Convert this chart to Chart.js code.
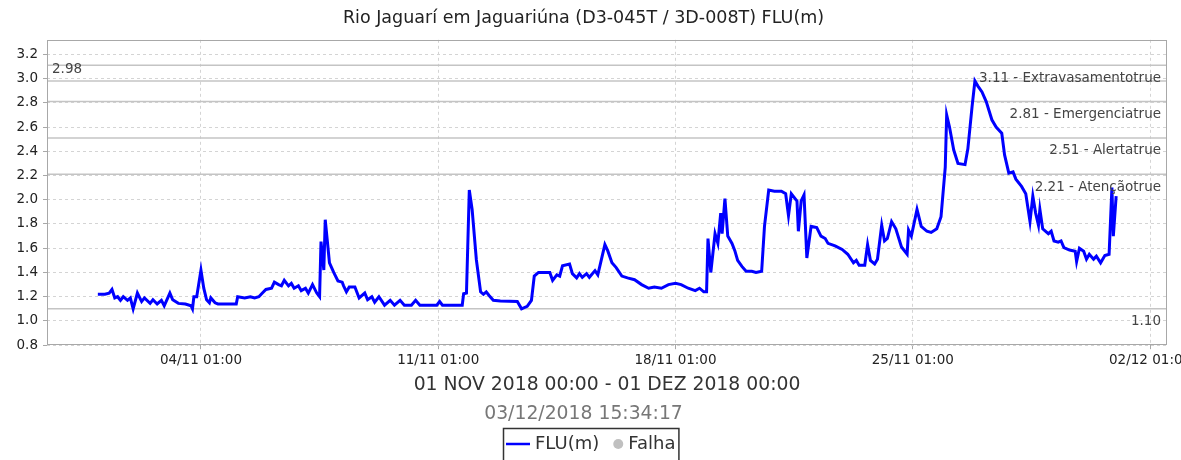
<!DOCTYPE html>
<html lang="pt-BR">
<head>
<meta charset="utf-8">
<title>Rio Jaguarí em Jaguariúna - FLU(m)</title>
<script src="https://cdn.jsdelivr.net/npm/chart.js@4.4.1/dist/chart.umd.min.js"></script>
<style>
    html, body { margin: 0; padding: 0; background: #fff; overflow: hidden; }
    #grafico { display: block; }
</style>
</head>
<body>
<canvas id="grafico" width="1181" height="460"></canvas>
<script>
// Horas contadas a partir de 01/11/2018 00:00
const horas = [
    0, 5, 8, 10, 12, 14, 16, 18, 21, 23, 25, 28, 31, 33, 37, 39, 42, 45, 47, 51,
    53, 57, 62, 66, 67, 68, 70, 73, 75, 77, 79, 80, 83, 85, 98, 99, 104, 108, 111, 114,
    116, 119, 123, 125, 128, 130, 132, 135, 137, 139, 142, 144, 147, 149, 152, 155, 157, 158, 160, 161,
    164, 167, 170, 173, 174, 176, 178, 182, 185, 189, 191, 194, 196, 199, 203, 207, 210, 214, 217, 222,
    225, 228, 240, 242, 244, 258, 259, 261, 263, 265, 268, 271, 273, 275, 277, 280, 285, 297, 300, 304,
    307, 309, 312, 320, 322, 325, 327, 329, 334, 336, 339, 341, 343, 346, 348, 352, 354, 359, 361, 364,
    367, 371, 375, 380, 385, 390, 394, 399, 404, 409, 413, 418, 423, 426, 429, 431, 432, 434, 437, 439,
    441, 442, 444, 446, 449, 451, 453, 456, 459, 463, 466, 470, 472, 475, 479, 484, 487, 489, 491, 495,
    496, 498, 500, 502, 505, 509, 512, 515, 517, 522, 527, 531, 535, 537, 539, 543, 545, 547, 550, 552,
    555, 557, 559, 562, 565, 569, 573, 574, 576, 580, 583, 587, 590, 594, 597, 600, 601, 603, 606, 609,
    614, 616, 619, 621, 623, 626, 629, 633, 636, 640, 642, 645, 648, 650, 654, 657, 660, 662, 664, 666,
    667, 669, 673, 675, 677, 680, 682, 684, 688, 692, 693, 695, 698, 700, 702, 705, 707, 710, 713, 716,
    718, 719, 721
];

// Nível FLU (m) em cada instante de horas[]
const nivelFLU = [
    1.22, 1.22, 1.23, 1.26, 1.19, 1.20, 1.17, 1.20, 1.17, 1.19, 1.10, 1.23, 1.16, 1.19, 1.145, 1.175, 1.14, 1.17, 1.125, 1.23,
    1.175, 1.145, 1.14, 1.125, 1.10, 1.20, 1.20, 1.42, 1.27, 1.175, 1.15, 1.19, 1.15, 1.14, 1.14, 1.20, 1.19, 1.20, 1.19, 1.20,
    1.225, 1.26, 1.27, 1.32, 1.30, 1.29, 1.335, 1.29, 1.31, 1.27, 1.29, 1.25, 1.27, 1.23, 1.30, 1.23, 1.20, 1.655, 1.42, 1.835,
    1.48, 1.40, 1.33, 1.32, 1.29, 1.24, 1.28, 1.28, 1.19, 1.23, 1.175, 1.20, 1.155, 1.20, 1.13, 1.17, 1.13, 1.17, 1.13, 1.13,
    1.17, 1.13, 1.13, 1.16, 1.13, 1.13, 1.225, 1.23, 2.08, 1.92, 1.505, 1.24, 1.22, 1.24, 1.21, 1.17, 1.165, 1.16, 1.10, 1.12,
    1.17, 1.37, 1.40, 1.40, 1.335, 1.38, 1.37, 1.455, 1.47, 1.39, 1.355, 1.39, 1.36, 1.39, 1.36, 1.415, 1.38, 1.63, 1.58, 1.48,
    1.44, 1.37, 1.355, 1.34, 1.30, 1.27, 1.28, 1.27, 1.30, 1.31, 1.30, 1.27, 1.25, 1.27, 1.24, 1.24, 1.68, 1.40, 1.72, 1.64,
    1.89, 1.72, 2.01, 1.70, 1.64, 1.58, 1.50, 1.45, 1.41, 1.41, 1.40, 1.41, 1.78, 2.08, 2.07, 2.07, 2.05, 1.87, 2.05, 1.99,
    1.74, 1.99, 2.04, 1.52, 1.78, 1.77, 1.70, 1.68, 1.64, 1.62, 1.59, 1.55, 1.48, 1.50, 1.46, 1.46, 1.63, 1.50, 1.47, 1.51,
    1.79, 1.66, 1.68, 1.82, 1.76, 1.61, 1.55, 1.75, 1.70, 1.92, 1.78, 1.74, 1.73, 1.76, 1.86, 2.27, 2.70, 2.60, 2.41, 2.30,
    2.29, 2.42, 2.77, 2.98, 2.94, 2.89, 2.81, 2.66, 2.60, 2.55, 2.37, 2.22, 2.23, 2.17, 2.11, 2.05, 1.82, 2.03, 1.89, 1.79,
    1.92, 1.76, 1.72, 1.74, 1.66, 1.65, 1.66, 1.605, 1.585, 1.575, 1.49, 1.60, 1.575, 1.51, 1.55, 1.51, 1.535, 1.48, 1.54, 1.55,
    2.10, 1.70, 2.03
];

// Marcas do eixo de tempo (horas desde o início) e seus rótulos
const tickHoras = [73, 241, 409, 577, 745];
const tickRotulos = ['04/11 01:00', '11/11 01:00', '18/11 01:00', '25/11 01:00', '02/12 01:00'];

// Marcas do eixo de nível
const tickNivel = [0.8, 1.0, 1.2, 1.4, 1.6, 1.8, 2.0, 2.2, 2.4, 2.6, 2.8, 3.0, 3.2];

// Cotas de referência do posto
const cotasValores = [3.11, 2.81, 2.51, 2.21];
const cotasNomes = ['Extravasamento', 'Emergencia', 'Alerta', 'Atenção'];
const nivelMaximo = 2.98;
const nivelMinimo = 1.10;

const FONTE = 'DejaVu Sans';

/**
 * Linhas de cota, máximo e mínimo, com seus rótulos
 */
const cotasPlugin = {
    id: 'cotas',
    beforeDatasetsDraw(chart) {
        const { ctx, chartArea: area, scales: { y } } = chart;
        ctx.save();
        ctx.strokeStyle = '#c4c4c4';
        ctx.lineWidth = 1.5;
        [...cotasValores, nivelMaximo, nivelMinimo].forEach(valor => {
            const py = y.getPixelForValue(valor);
            ctx.beginPath();
            ctx.moveTo(area.left, py);
            ctx.lineTo(area.right, py);
            ctx.stroke();
        });
        ctx.restore();
    },
    afterDatasetsDraw(chart) {
        const { ctx, chartArea: area, scales: { y } } = chart;
        ctx.save();
        ctx.font = `13.5px "${FONTE}"`;
        ctx.fillStyle = '#444';
        ctx.textBaseline = 'middle';

        // cotas: rótulo à direita, abaixo da linha
        ctx.textAlign = 'right';
        cotasValores.forEach((valor, i) => {
            const texto = `${valor.toFixed(2)} - ${cotasNomes[i]}true`;
            ctx.fillText(texto, area.right - 6, y.getPixelForValue(valor) + 13);
        });
        ctx.fillText(nivelMinimo.toFixed(2), area.right - 6, y.getPixelForValue(nivelMinimo) + 13);

        // máximo: rótulo à esquerda, acima da linha
        ctx.textAlign = 'left';
        ctx.fillText(nivelMaximo.toFixed(2), area.left + 5, y.getPixelForValue(nivelMaximo) - 12);
        ctx.restore();
    },
    afterDraw(chart) {
        // moldura da área de plotagem
        const { ctx, chartArea: area } = chart;
        ctx.save();
        ctx.strokeStyle = '#a8a8a8';
        ctx.lineWidth = 1;
        ctx.strokeRect(Math.round(area.left) + 0.5, Math.round(area.top) + 0.5,
            Math.round(area.width) - 1, Math.round(area.height) - 1);
        ctx.restore();
    }
};

/**
 * Legenda em caixa, centralizada no rodapé
 */
const legendaPlugin = {
    id: 'legendaCaixa',
    afterDraw(chart) {
        const { ctx } = chart;
        const [serie, falha] = chart.data.datasets;
        ctx.save();
        ctx.font = `18px "${FONTE}"`;
        const wSerie = ctx.measureText(serie.label).width;
        const wFalha = ctx.measureText(falha.label).width;
        const amostra = 24, espaco = 5, entre = 14, raio = 5;
        const largura = 3 + amostra + espaco + wSerie + entre + raio * 2 + espaco + wFalha + 3;
        const x0 = Math.round(chart.width / 2 - largura / 2);
        const topo = chart.height - 32;
        const cy = topo + 16;

        ctx.strokeStyle = '#333';
        ctx.lineWidth = 1.5;
        ctx.strokeRect(x0 + 0.5, topo + 0.5, largura, 60);

        let x = x0 + 3;
        ctx.strokeStyle = serie.borderColor;
        ctx.lineWidth = 2.5;
        ctx.beginPath();
        ctx.moveTo(x, cy);
        ctx.lineTo(x + amostra, cy);
        ctx.stroke();
        x += amostra + espaco;

        ctx.fillStyle = '#333';
        ctx.textBaseline = 'middle';
        ctx.textAlign = 'left';
        ctx.fillText(serie.label, x, cy);
        x += wSerie + entre;

        ctx.fillStyle = falha.backgroundColor;
        ctx.beginPath();
        ctx.arc(x + raio, cy, raio, 0, Math.PI * 2);
        ctx.fill();
        x += raio * 2 + espaco;

        ctx.fillStyle = '#333';
        ctx.fillText(falha.label, x, cy);
        ctx.restore();
    }
};

const ctx = document.getElementById('grafico').getContext('2d');
new Chart(ctx, {
    type: 'line',
    data: {
        datasets: [{
            label: 'FLU(m)',
            data: horas.map((h, i) => ({ x: h, y: nivelFLU[i] })),
            borderColor: '#0000ff',
            backgroundColor: '#0000ff',
            borderWidth: 3,
            pointRadius: 0,
            tension: 0,
            fill: false
        }, {
            label: 'Falha',
            data: [],
            borderColor: '#c0c0c0',
            backgroundColor: '#c0c0c0',
            pointRadius: 4,
            showLine: false
        }]
    },
    options: {
        responsive: false,
        animation: false,
        devicePixelRatio: 1,
        layout: {
            padding: { left: 0, right: 14, top: 0, bottom: 34.5 }
        },
        plugins: {
            legend: { display: false },
            tooltip: { enabled: false },
            title: {
                display: true,
                text: 'Rio Jaguarí em Jaguariúna (D3-045T / 3D-008T) FLU(m)',
                color: '#222',
                font: { family: FONTE, size: 17.5, weight: 'normal' },
                padding: { top: 8, bottom: 10.8 }
            },
            subtitle: {
                display: true,
                position: 'bottom',
                weight: 500,
                text: '03/12/2018 15:34:17',
                color: '#777',
                font: { family: FONTE, size: 18.8, weight: 'normal' },
                padding: { top: 5, bottom: 0 }
            }
        },
        scales: {
            x: {
                type: 'linear',
                min: -36,
                max: 757,
                afterBuildTicks: scale => {
                    scale.ticks = tickHoras.map(v => ({ value: v }));
                },
                afterFit: scale => {
                    // o último rótulo pode sair do quadro
                    scale.paddingLeft = 0;
                    scale.paddingRight = 0;
                },
                ticks: {
                    autoSkip: false,
                    maxRotation: 0,
                    minRotation: 0,
                    padding: 3,
                    color: '#222',
                    font: { family: FONTE, size: 13.5 },
                    callback: value => tickRotulos[tickHoras.indexOf(value)]
                },
                grid: {
                    color: '#d4d4d4',
                    tickColor: '#a8a8a8',
                    tickLength: 4
                },
                border: { display: false, dash: [3, 3] },
                title: {
                    display: true,
                    text: '01 NOV 2018 00:00 - 01 DEZ 2018 00:00',
                    color: '#333',
                    font: { family: FONTE, size: 18.8 },
                    padding: { top: 2, bottom: 2 }
                }
            },
            y: {
                min: 0.8,
                max: 3.32,
                afterBuildTicks: scale => {
                    scale.ticks = tickNivel.map(v => ({ value: v }));
                },
                afterFit: scale => {
                    scale.width = 47;
                },
                ticks: {
                    padding: 5,
                    color: '#222',
                    font: { family: FONTE, size: 13.5 },
                    callback: value => value.toFixed(1)
                },
                grid: {
                    color: '#d4d4d4',
                    tickColor: '#a8a8a8',
                    tickLength: 4
                },
                border: { display: false, dash: [3, 3] }
            }
        }
    },
    plugins: [cotasPlugin, legendaPlugin]
});
</script>
</body>
</html>
